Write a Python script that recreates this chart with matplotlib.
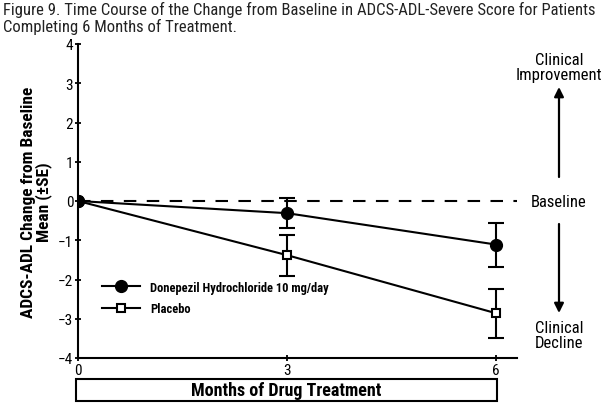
import matplotlib.pyplot as plt
from matplotlib.patches import Rectangle

plt.rcParams['font.family'] = ['Roboto Condensed', 'Barlow Semi Condensed', 'DejaVu Sans']

months = [0, 3, 6]
donepezil = [0.0, -0.31, -1.11]
donepezil_se = [0.0, 0.39, 0.56]
placebo = [0.0, -1.38, -2.86]
placebo_se = [0.0, 0.52, 0.63]
yticks = [-4, -3, -2, -1, 0, 1, 2, 3, 4]
xticks = [0, 3, 6]

fig = plt.figure(figsize=(6.13, 4.06), dpi=100)
ax = fig.add_axes([78/613, 1-359/406, (517-78)/613, (359-45)/406])

ax.plot([0, 6.3], [0, 0], color='black', lw=1.5, dashes=(6, 5))

ax.errorbar(months[1:], donepezil[1:], yerr=donepezil_se[1:], fmt='none',
            ecolor='black', elinewidth=1.5, capsize=6, capthick=1.5)
ax.errorbar(months[1:], placebo[1:], yerr=placebo_se[1:], fmt='none',
            ecolor='black', elinewidth=1.5, capsize=6, capthick=1.5)
ax.plot(months, donepezil, '-o', color='black', lw=1.5, ms=8.5,
        label='Donepezil Hydrochloride 10 mg/day', zorder=4)
ax.plot(months, placebo, '-s', color='black', lw=1.5, ms=6, mfc='white',
        mew=1.5, label='Placebo', zorder=4)
ax.plot(0, 0, 'o', color='black', ms=8.5, zorder=5)

ax.set_xlim(0, 6.3)
ax.set_ylim(-4, 4)
ax.set_xticks(xticks)
ax.set_yticks(yticks)
ax.tick_params(direction='inout', length=5, width=1.3, labelsize=11, pad=1)
for s in ['top', 'right']:
    ax.spines[s].set_visible(False)
for s in ['left', 'bottom']:
    ax.spines[s].set_linewidth(1.5)

ax.set_ylabel('ADCS-ADL Change from Baseline\nMean (\u00b1SE)', fontsize=12.5,
              fontweight='bold', labelpad=4, linespacing=0.95)

leg = ax.legend(loc='lower left', bbox_to_anchor=(0.03, 0.1), frameon=False,
                handlelength=3, labelspacing=0.7,
                prop={'weight': 'bold', 'size': 9})

# x label in a box
fig.patches.append(Rectangle((76/613, 1-402/406), (497-76)/613, 22/406,
                             transform=fig.transFigure, fill=False,
                             edgecolor='black', lw=1.5))
fig.text((76+497)/2/613, 1-391/406, 'Months of Drug Treatment', ha='center',
         va='center', fontsize=13, fontweight='bold')

# right-side annotations
xr = 559/613
fig.text(xr, 1-68/406, 'Clinical\nImprovement', ha='center', va='center',
         fontsize=12, linespacing=0.95)
fig.text(xr, 1-203/406, 'Baseline', ha='center', va='center', fontsize=12)
fig.text(xr, 1-336/406, 'Clinical\nDecline', ha='center', va='center',
         fontsize=12, linespacing=0.95)
fig.add_artist(plt.Annotation('', xy=(xr, 1-88/406), xytext=(xr, 1-178/406),
                              xycoords='figure fraction',
                              arrowprops=dict(arrowstyle='-|>', lw=1.6,
                                              color='black', mutation_scale=14,
                                              shrinkA=0, shrinkB=0)))
fig.add_artist(plt.Annotation('', xy=(xr, 1-314/406), xytext=(xr, 1-225/406),
                              xycoords='figure fraction',
                              arrowprops=dict(arrowstyle='-|>', lw=1.6,
                                              color='black', mutation_scale=14,
                                              shrinkA=0, shrinkB=0)))

fig.text(3/613, 1-10/406, 'Figure 9. Time Course of the Change from Baseline in '
         'ADCS-ADL-Severe Score for Patients', ha='left', va='center',
         fontsize=12, color='#222222')
fig.text(3/613, 1-27/406, 'Completing 6 Months of Treatment.', ha='left',
         va='center', fontsize=12, color='#222222')

fig.savefig('out.png', dpi=100)
